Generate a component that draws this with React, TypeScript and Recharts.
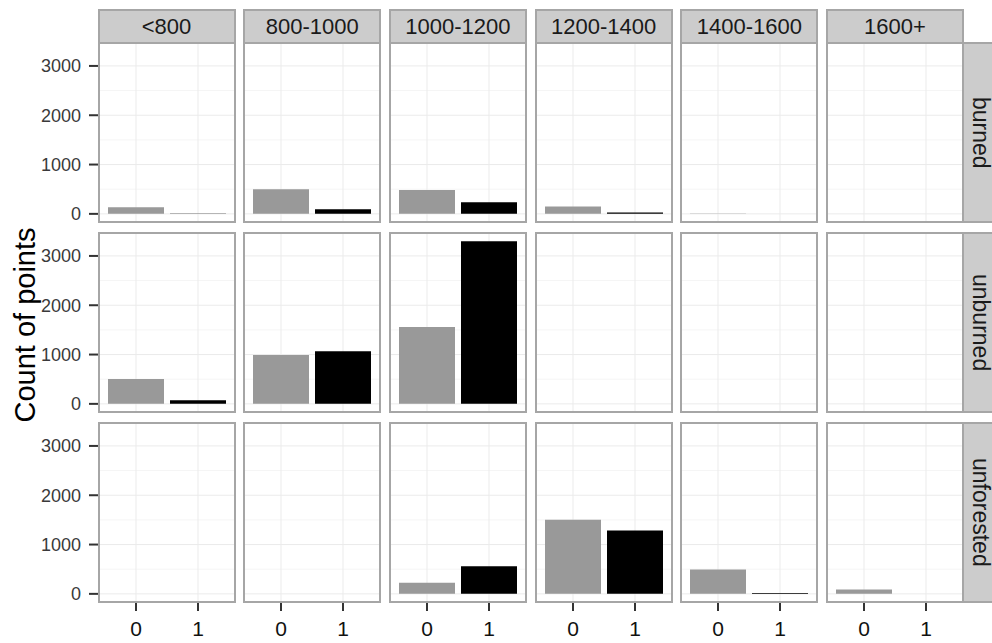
import React from 'react';
import { BarChart, Bar, XAxis, YAxis, CartesianGrid, Cell } from 'recharts';

const zones = ['<800', '800-1000', '1000-1200', '1200-1400', '1400-1600', '1600+'];
const statuses = ['burned', 'unburned', 'unforested'];
const classes = ['0', '1'];

// counts for class 0 and class 1, one value per elevation zone
const burned0 = [135, 500, 486, 150, 6, 0];
const burned1 = [8, 95, 237, 30, 0, 0];
const unburned0 = [506, 992, 1560, 0, 0, 0];
const unburned1 = [75, 1067, 3300, 0, 0, 0];
const unforested0 = [0, 0, 223, 1505, 492, 88];
const unforested1 = [0, 0, 560, 1287, 20, 0];

const yTicks = [0, 1000, 2000, 3000];
const yMinor = [500, 1500, 2500];
const yDomain: [number, number] = [-165, 3465];

const series = [
  [burned0, burned1],
  [unburned0, unburned1],
  [unforested0, unforested1],
];
const barColors = ['#999999', '#000000'];

const PANEL_W = 136;
const PANEL_H = 179;
const COL0 = 98.5;
const COL_STEP = 145.7;
const ROW0 = 43.3;
const ROW_STEP = 190;
const STRIP_TOP = 9.3;
const STRIP_H = 34;
const Y_AXIS_W = 60;
const X_AXIS_H = 45;
const LABEL_ROOM = 10;

const FONT = '"Liberation Sans", Arial, Helvetica, sans-serif';

function Panel({ row, col }: { row: number; col: number }) {
  const data = classes.map((c, i) => ({ cls: c, count: series[row][i][col] }));
  const showY = col === 0;
  const showX = row === statuses.length - 1;
  // first-column panels above the bottom row keep a little room for the "0" label
  const extra = showY && !showX ? LABEL_ROOM : 0;
  const w = PANEL_W + (showY ? Y_AXIS_W : 0);
  const h = PANEL_H + (showX ? X_AXIS_H : 0) + extra;
  const left = COL0 + col * COL_STEP - (showY ? Y_AXIS_W : 0);
  const top = ROW0 + row * ROW_STEP;

  return (
    <div style={{ position: 'absolute', left, top }}>
      <BarChart
        width={w}
        height={h}
        data={data}
        margin={{ top: 0, right: 0, bottom: extra, left: 0 }}
        barSize={56}
      >
        <CartesianGrid stroke="#f5f5f5" vertical={false} horizontalValues={yMinor} />
        <CartesianGrid stroke="#ebebeb" horizontalValues={yTicks} />
        <XAxis
          dataKey="cls"
          hide={!showX}
          height={X_AXIS_H}
          padding={{ left: 6, right: 6 }}
          axisLine={false}
          interval={0}
          tickSize={9}
          tickMargin={10}
          tickLine={{ stroke: '#333', strokeWidth: 2 }}
          tick={{ fill: '#111', fontSize: 21 }}
        />
        <YAxis
          hide={!showY}
          width={Y_AXIS_W}
          domain={yDomain}
          ticks={yTicks}
          interval={0}
          allowDataOverflow
          axisLine={false}
          tickSize={10}
          tickMargin={8}
          tickLine={{ stroke: '#333', strokeWidth: 2 }}
          tick={{ fill: '#3a3a3a', fontSize: 18 }}
        />
        <Bar dataKey="count" isAnimationActive={false}>
          {data.map((d, i) => (
            <Cell key={d.cls} fill={barColors[i]} />
          ))}
        </Bar>
      </BarChart>
      <div
        style={{
          position: 'absolute',
          left: (showY ? Y_AXIS_W : 0) - 1,
          top: -1,
          width: PANEL_W + 2,
          height: PANEL_H + 2,
          border: '2px solid #a6a6a6',
          boxSizing: 'border-box',
          pointerEvents: 'none',
        }}
      />
    </div>
  );
}

export default function App() {
  return (
    <div
      style={{
        position: 'fixed',
        left: 0,
        top: 0,
        width: 992,
        height: 643,
        overflow: 'hidden',
        background: '#fff',
        fontFamily: FONT,
      }}
    >
      {zones.map((z, c) => (
        <div
          key={z}
          style={{
            position: 'absolute',
            left: COL0 + c * COL_STEP - 1,
            top: STRIP_TOP,
            width: PANEL_W + 2,
            height: STRIP_H + 1,
            background: '#cccccc',
            border: '2px solid #a6a6a6',
            boxSizing: 'border-box',
            display: 'flex',
            alignItems: 'center',
            justifyContent: 'center',
            fontSize: 22,
            color: '#1a1a1a',
          }}
        >
          {z}
        </div>
      ))}
      {statuses.map((s, r) => (
        <div
          key={s}
          style={{
            position: 'absolute',
            left: COL0 + 5 * COL_STEP + PANEL_W - 1,
            top: ROW0 + r * ROW_STEP - 1,
            width: STRIP_H + 2,
            height: PANEL_H + 2,
            background: '#cccccc',
            border: '2px solid #a6a6a6',
            boxSizing: 'border-box',
            display: 'flex',
            alignItems: 'center',
            justifyContent: 'center',
            fontSize: 23,
            color: '#1a1a1a',
            writingMode: 'vertical-rl',
          }}
        >
          {s}
        </div>
      ))}
      {statuses.map((s, r) => zones.map((z, c) => <Panel key={s + z} row={r} col={c} />))}
      <div
        style={{
          position: 'absolute',
          left: 25,
          top: 325,
          transform: 'translate(-50%, -50%) rotate(-90deg)',
          whiteSpace: 'nowrap',
          fontSize: 29,
          color: '#000',
        }}
      >
        Count of points
      </div>
    </div>
  );
}
